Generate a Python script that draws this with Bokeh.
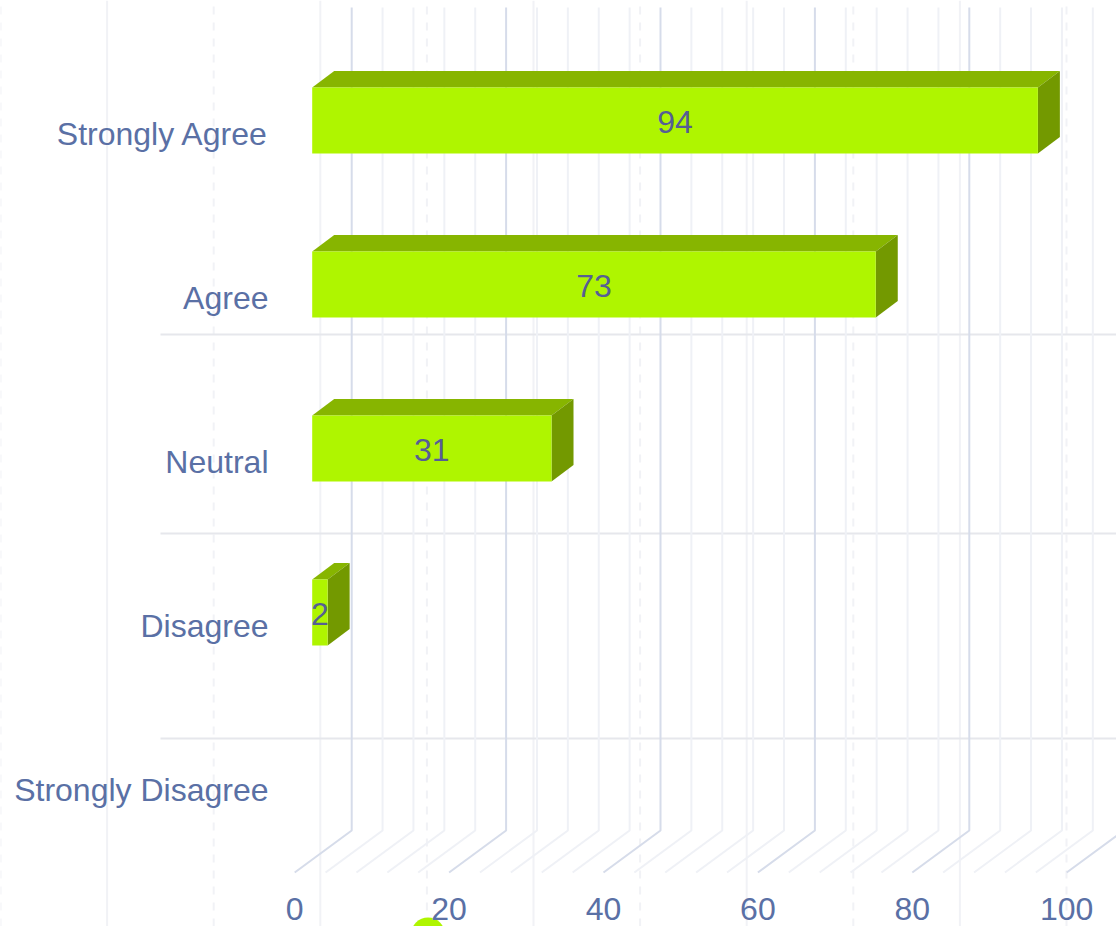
from bokeh.plotting import figure
from bokeh.models import Range1d, FixedTicker
from bokeh.core.properties import value
from bokeh.embed import file_html
from bokeh.resources import INLINE

categories = ["Strongly Agree", "Agree", "Neutral", "Disagree", "Strongly Disagree"]
counts = [94, 73, 31, 2, 0]
major_ticks = [0, 20, 40, 60, 80, 100]
minor_ticks = [4, 8, 12, 16, 24, 28, 32, 36, 44, 48, 52, 56, 64, 68, 72, 76, 84, 88, 92, 96]

W, H = 1116, 926
PX = 7.72      # pixels per unit on the value scale
PY = 164.0     # pixels per category
X0 = 294.2     # pixel of value 0
Y0 = 133.0     # pixel of first category


def dx(px):
    return px / PX


def dy(px):
    return px / PY


def sx(px):
    return (px - X0) / PX


def sy(px):
    return (px - Y0) / PY


x_range = Range1d(sx(0), sx(W))
y_range = Range1d(sy(H), sy(0))

p = figure(width=W, height=H, frame_width=W, frame_height=H, x_range=x_range, y_range=y_range,
           output_backend="svg", toolbar_location=None, min_border=0,
           background_fill_color="white", border_fill_color="white", outline_line_color=None)
p.grid.visible = False

LABEL = "#5a70a5"
for ax in (p.xaxis[0], p.yaxis[0]):
    ax.axis_line_color = None
    ax.major_tick_line_color = None
    ax.minor_tick_line_color = None
    ax.major_label_text_font = "Liberation Sans"
    ax.major_label_text_font_size = "32px"
    ax.major_label_text_color = LABEL

p.xaxis[0].ticker = FixedTicker(ticks=major_ticks)
p.xaxis[0].major_label_standoff = -35
p.yaxis[0].ticker = FixedTicker(ticks=list(range(len(categories))))
p.yaxis[0].major_label_overrides = {i: c for i, c in enumerate(categories)}
p.yaxis[0].major_label_standoff = -274

# page background grid: alternating solid / dashed
STEP = 106.6
bg_solid = [sx(STEP * i) for i in (1, 3, 5, 7, 9)]
bg_dash = [sx(STEP * i) for i in (0, 2, 4, 6, 8, 10)]
for xs, dash in ((bg_solid, "solid"), (bg_dash, "8 8")):
    p.segment(xs, [y_range.start] * len(xs), xs, [y_range.end] * len(xs),
              line_color="#f1f2f6", line_width=2, line_dash=dash)

# category separators
for py in (334, 533, 738):
    p.line([sx(160), x_range.end], [sy(py), sy(py)], line_color="#e6e7ec", line_width=2)

# 3D wall + floor gridlines, one per tick
WALL_DX, WALL_DY = 57, 42
floor_y = sy(872)
wall_top = sy(7)


def wall(ticks):
    return ([[t, t + dx(WALL_DX), t + dx(WALL_DX)] for t in ticks],
            [[floor_y, floor_y - dy(WALL_DY), wall_top] for _ in ticks])


xs, ys = wall(minor_ticks)
p.multi_line(xs, ys, line_color="#eff1f6", line_width=2)
xs, ys = wall(major_ticks)
p.multi_line(xs, ys, line_color="#d6dcea", line_width=2)

# bars
OX = dx(17.5)
DEPTH_X, DEPTH_Y = dx(22), dy(16.5)
TOP, BOT = dy(46), dy(-20)

front_x, front_y, top_x, top_y, side_x, side_y, lab_x, lab_y, lab_t = [], [], [], [], [], [], [], [], []
for i, v in enumerate(counts):
    if v == 0:
        continue
    l, r = OX, OX + v
    t, b = i - TOP, i - BOT
    front_x.append([l, r, r, l])
    front_y.append([t, t, b, b])
    top_x.append([l, l + DEPTH_X, r + DEPTH_X, r])
    top_y.append([t, t - DEPTH_Y, t - DEPTH_Y, t])
    side_x.append([r, r + DEPTH_X, r + DEPTH_X, r])
    side_y.append([t, t - DEPTH_Y, b - DEPTH_Y, b])
    lab_x.append((l + r) / 2)
    lab_y.append(i - dy(12))
    lab_t.append(str(v))

p.patches(top_x, top_y, fill_color="#87b500", line_color=None)
p.patches(side_x, side_y, fill_color="#739900", line_color=None)
p.patches(front_x, front_y, fill_color="#aff500", line_color=None)

p.text(lab_x, lab_y, text=lab_t, text_align="center", text_baseline="middle",
       text_font=value("Liberation Sans"), text_font_size="32px", text_color="#565e94")

# legend marker partly off the page
p.scatter([sx(427.5)], [sy(934)], size=34, marker="circle",
          fill_color="#aff500", line_color=None)

open("out.html", "w").write(file_html(p, INLINE))
